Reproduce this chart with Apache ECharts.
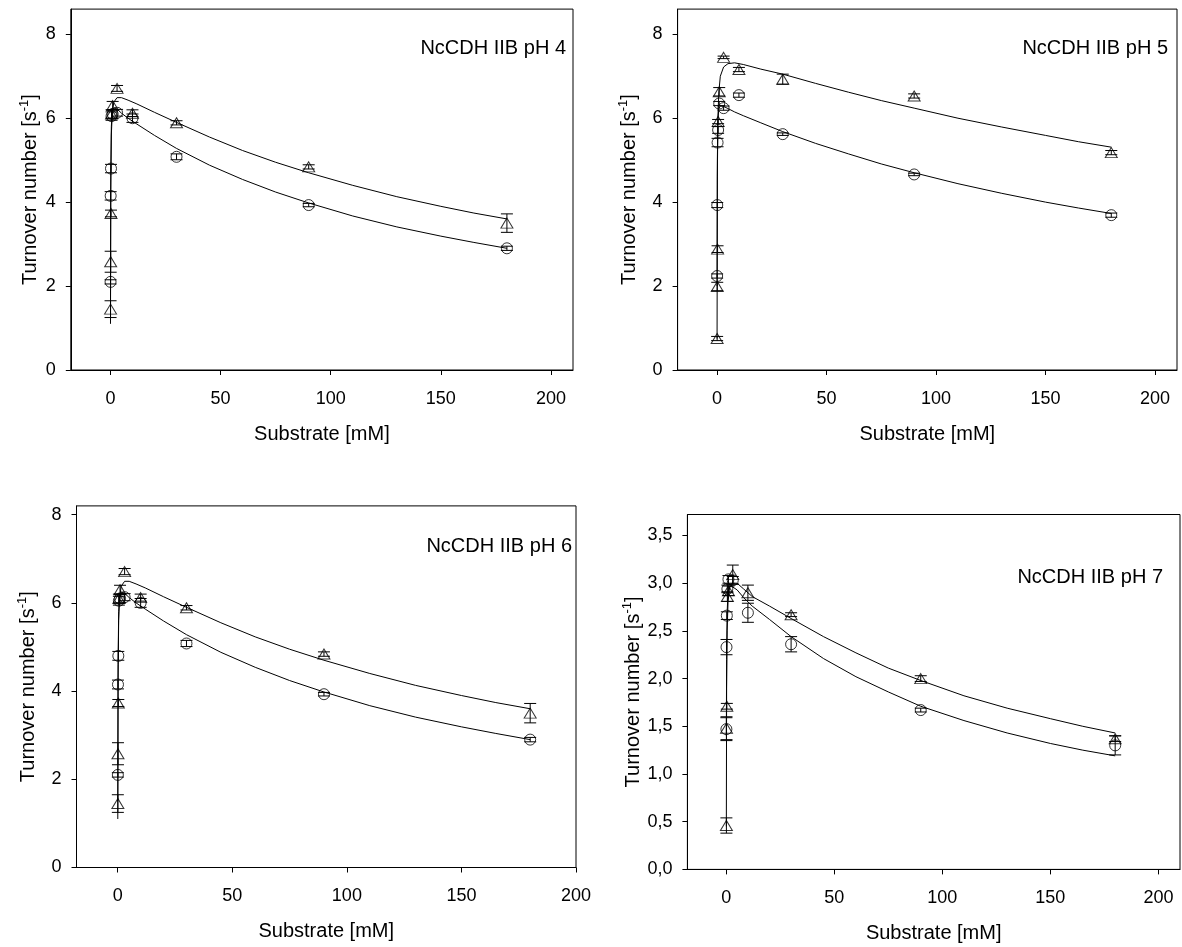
<!DOCTYPE html>
<html>
<head>
<meta charset="utf-8">
<script src="https://cdn.jsdelivr.net/npm/echarts@6/dist/echarts.min.js"></script>
<style>
html,body{margin:0;padding:0;background:#fff;}
#c{width:1182px;height:947px;}
</style>
</head>
<body>
<div id="c"></div>
<script>
// ---- data ----
const xConc = [0.05, 0.1, 0.25, 0.5, 1, 3, 10, 30, 90, 180];

// pH 4 (also shown for pH 6)
const tri4 = [1.45, 2.58, 3.73, 6.1, 6.3, 6.71, 6.12, 5.89, 4.84, 3.5];
const triErr4 = [0.2, 0.25, 0.08, 0.1, 0.1, 0.07, 0.08, 0.05, 0.05, 0.22];
const cir4 = [2.1, 4.15, 4.8, 6.05, 6.1, 6.13, 6.0, 5.08, 3.93, 2.9];
const cirErr4 = [0.05, 0.1, 0.1, 0.1, 0.1, 0.08, 0.1, 0.07, 0.04, 0.05];

// pH 5
const tri5 = [0.75, 1.99, 2.88, 5.92, 6.63, 7.45, 7.16, 6.93, 6.53, 5.18];
const triErr5 = [0.05, 0.1, 0.08, 0.05, 0.1, 0.03, 0.05, 0.12, 0.05, 0.05];
const cir5 = [2.24, 3.93, 5.42, 5.72, 6.35, 6.24, 6.55, 5.62, 4.66, 3.69];
const cirErr5 = [0.05, 0.06, 0.1, 0.08, 0.05, 0.05, 0.05, 0.03, 0.03, 0.05];

// pH 7
const tri7 = [0.46, 1.48, 1.71, 2.86, 2.92, 3.09, 2.9, 2.67, 2.0, 1.37];
const triErr7 = [0.08, 0.12, 0.03, 0.05, 0.05, 0.1, 0.08, 0.02, 0.03, 0.03];
const cir7 = [1.47, 2.33, 2.66, 2.94, 3.04, 3.03, 2.69, 2.36, 1.67, 1.3];
const cirErr7 = [0.12, 0.08, 0.04, 0.04, 0.04, 0.04, 0.1, 0.08, 0.02, 0.1];

// fitted curves
const curveX = [0.02, 0.15, 0.4, 0.8, 1.5, 3, 5, 8, 12, 20, 30, 45, 60, 75, 90, 110, 130, 150, 165, 180];
const fitTri4 = [1.1, 4.3, 5.6, 6.1, 6.38, 6.49, 6.49, 6.43, 6.34, 6.14, 5.9, 5.55, 5.23, 4.95, 4.7, 4.4, 4.13, 3.9, 3.74, 3.6];
const fitCir4 = [1.5, 4.6, 5.8, 6.15, 6.25, 6.22, 6.12, 6.0, 5.86, 5.59, 5.28, 4.88, 4.54, 4.24, 3.98, 3.67, 3.41, 3.19, 3.04, 2.9];
const fitTri5 = [0.75, 4.6, 6.0, 6.6, 7.0, 7.22, 7.3, 7.32, 7.28, 7.17, 7.05, 6.83, 6.62, 6.42, 6.24, 6.0, 5.79, 5.59, 5.44, 5.31];
const fitCir5 = [2.0, 5.0, 5.95, 6.22, 6.3, 6.28, 6.23, 6.15, 6.06, 5.89, 5.68, 5.4, 5.15, 4.91, 4.7, 4.44, 4.21, 4.0, 3.86, 3.73];
const fitTri7 = [0.45, 1.9, 2.5, 2.8, 2.95, 3.0, 3.0, 2.94, 2.86, 2.76, 2.63, 2.44, 2.27, 2.11, 1.98, 1.82, 1.69, 1.58, 1.5, 1.43];
const fitCir7 = [1.4, 2.2, 2.7, 2.9, 2.97, 2.96, 2.93, 2.85, 2.76, 2.62, 2.44, 2.21, 2.02, 1.86, 1.71, 1.56, 1.43, 1.32, 1.25, 1.19];

const xTicks = [0, 50, 100, 150, 200];
const yTicks8 = [0, 2, 4, 6, 8];
const yTicks35 = [0, 0.5, 1.0, 1.5, 2.0, 2.5, 3.0, 3.5];

const panelTitles = ['NcCDH IIB pH 4', 'NcCDH IIB pH 5', 'NcCDH IIB pH 6', 'NcCDH IIB pH 7'];
const xTitle = 'Substrate [mM]';

// ---- build ----
const FONT = '"Liberation Sans", Arial, Helvetica, sans-serif';
const pairs = (xs, ys) => xs.map((x, i) => [x, ys[i]]);
const triples = (xs, ys, es) => xs.map((x, i) => [x, ys[i], es[i]]);

const panels = [
  {grid:{left:70.8, top:9.1, width:502.2, height:360.9}, xmax:210, ymax:8.6, yt:yTicks8, comma:false,
   tri:tri4, triErr:triErr4, cir:cir4, cirErr:cirErr4, fT:fitTri4, fC:fitCir4, ygap:27, title:{right:611, top:33}},
  {grid:{left:677.6, top:9.1, width:499.4, height:360.9}, xmax:210, ymax:8.6, yt:yTicks8, comma:false,
   tri:tri5, triErr:triErr5, cir:cir5, cirErr:cirErr5, fT:fitTri5, fC:fitCir5, ygap:35, title:{right:9, top:33}},
  {grid:{left:76.5, top:505.9, width:499.5, height:361.6}, xmax:200, ymax:8.2, yt:yTicks8, comma:false,
   tri:tri4, triErr:triErr4, cir:cir4, cirErr:cirErr4, fT:fitTri4, fC:fitCir4, ygap:35, title:{right:605, top:531}},
  {grid:{left:687.4, top:514.5, width:492.6, height:354.9}, xmax:210, ymax:3.72, yt:yTicks35, comma:true,
   tri:tri7, triErr:triErr7, cir:cir7, cirErr:cirErr7, fT:fitTri7, fC:fitCir7, ygap:39, title:{right:14, top:562}}
];

function errItem(params, api) {
  const x = api.value(0), y = api.value(1), e = api.value(2);
  const hi = api.coord([x, y + e]);
  const lo = api.coord([x, y - e]);
  const cw = 6;
  const st = {stroke:'#000', lineWidth:1};
  return {type:'group', children:[
    {type:'line', shape:{x1:hi[0], y1:hi[1], x2:lo[0], y2:lo[1]}, style:st},
    {type:'line', shape:{x1:hi[0]-cw, y1:hi[1], x2:hi[0]+cw, y2:hi[1]}, style:st},
    {type:'line', shape:{x1:lo[0]-cw, y1:lo[1], x2:lo[0]+cw, y2:lo[1]}, style:st}
  ]};
}

const option = {
  animation:false,
  backgroundColor:'#fff',
  title:[], grid:[], xAxis:[], yAxis:[], series:[]
};

panels.forEach((p, i) => {
  option.grid.push(Object.assign({show:true, borderColor:'#000', borderWidth:1, containLabel:false}, p.grid));
  option.title.push({text:panelTitles[i], right:p.title.right, top:p.title.top,
    textStyle:{fontFamily:FONT, fontSize:20, fontWeight:'normal', color:'#000'}});
  option.xAxis.push({
    gridIndex:i, type:'value', min:-18, max:p.xmax,
    name:xTitle, nameLocation:'middle', nameGap:54,
    nameTextStyle:{fontFamily:FONT, fontSize:20, color:'#000'},
    axisLine:{onZero:false, lineStyle:{color:'#000', width:1}},
    axisTick:{show:true, length:5, customValues:xTicks, lineStyle:{color:'#000'}},
    axisLabel:{customValues:xTicks, fontFamily:FONT, fontSize:18, color:'#000', margin:20},
    splitLine:{show:false}
  });
  option.yAxis.push({
    gridIndex:i, type:'value', min:0, max:p.ymax,
    name:'{t|Turnover number [s}{s|-1}{t|]}', nameLocation:'middle', nameGap:p.ygap,
    nameTextStyle:{fontFamily:FONT, fontSize:20, color:'#000',
      rich:{t:{fontFamily:FONT, fontSize:20, color:'#000', lineHeight:26, verticalAlign:'middle'},
            s:{fontFamily:FONT, fontSize:13, color:'#000', verticalAlign:'top', lineHeight:26}}},
    axisLine:{show:true, onZero:false, lineStyle:{color:'#000', width:1}},
    axisTick:{show:true, length:5, customValues:p.yt, lineStyle:{color:'#000'}},
    axisLabel:{customValues:p.yt, fontFamily:FONT, fontSize:18, color:'#000', margin:15,
      formatter: v => p.comma ? v.toFixed(1).replace('.', ',') : String(v)},
    splitLine:{show:false}
  });
  const lineCommon = {type:'line', xAxisIndex:i, yAxisIndex:i, showSymbol:false, symbol:'none',
    lineStyle:{color:'#000', width:1}, z:2, silent:true};
  option.series.push(Object.assign({data:pairs(curveX, p.fT)}, lineCommon));
  option.series.push(Object.assign({data:pairs(curveX, p.fC)}, lineCommon));
  option.series.push({type:'custom', xAxisIndex:i, yAxisIndex:i, renderItem:errItem,
    data:triples(xConc, p.tri, p.triErr), z:3, silent:true});
  option.series.push({type:'custom', xAxisIndex:i, yAxisIndex:i, renderItem:errItem,
    data:triples(xConc, p.cir, p.cirErr), z:3, silent:true});
  option.series.push({type:'scatter', xAxisIndex:i, yAxisIndex:i, symbol:'triangle', symbolSize:[12, 10],
    itemStyle:{color:'rgba(255,255,255,0)', borderColor:'#000', borderWidth:1},
    data:pairs(xConc, p.tri), z:4, silent:true});
  option.series.push({type:'scatter', xAxisIndex:i, yAxisIndex:i, symbol:'circle', symbolSize:11,
    itemStyle:{color:'rgba(255,255,255,0)', borderColor:'#000', borderWidth:1},
    data:pairs(xConc, p.cir), z:4, silent:true});
});

const chart = echarts.init(document.getElementById('c'), null, {renderer:'canvas'});
chart.setOption(option);
</script>
</body>
</html>
